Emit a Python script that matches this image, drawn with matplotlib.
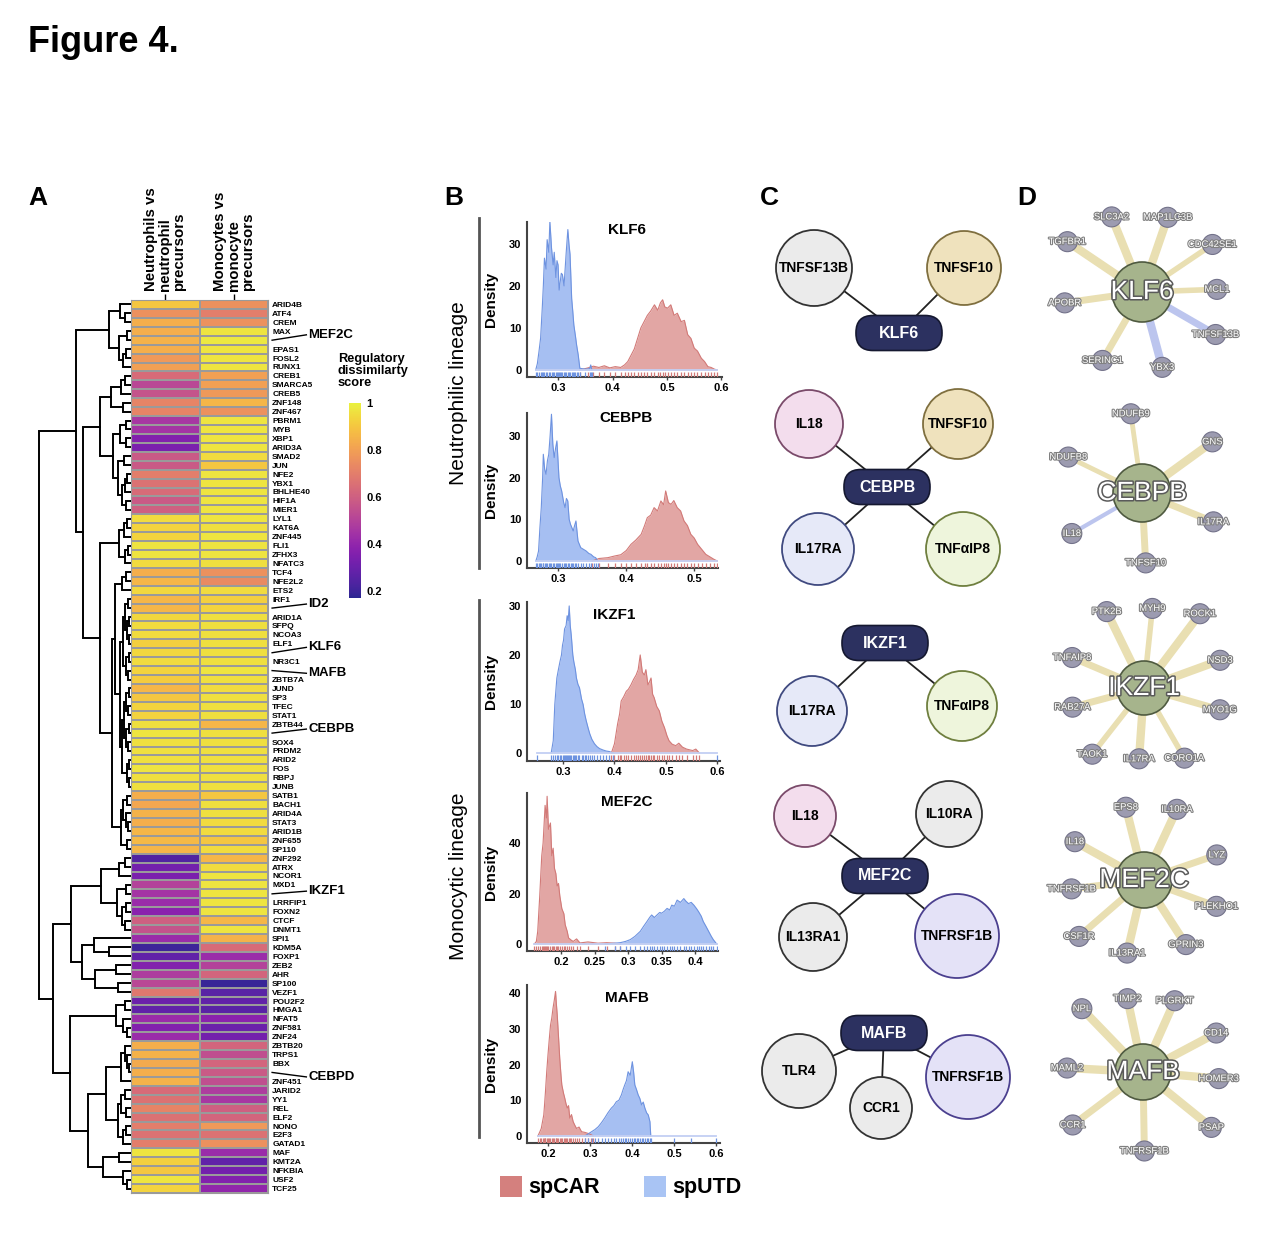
import numpy as np
import matplotlib
matplotlib.use("Agg")
import matplotlib.pyplot as plt
from matplotlib.patches import Circle, FancyBboxPatch, Rectangle
import matplotlib.patheffects as pe
from matplotlib import cm
from matplotlib.colors import Normalize, ListedColormap

plt.rcParams['font.family'] = ['Liberation Sans', 'DejaVu Sans']

# ---------------- DATA ----------------
GENES = ["ARID4B", "ATF4", "CREM", "MAX", "MEF2C", "EPAS1", "FOSL2", "RUNX1", "CREB1", "SMARCA5",
         "CREB5", "ZNF148", "ZNF467", "PBRM1", "MYB", "XBP1", "ARID3A", "SMAD2", "JUN", "NFE2",
         "YBX1", "BHLHE40", "HIF1A", "MIER1", "LYL1", "KAT6A", "ZNF445", "FLI1", "ZFHX3", "NFATC3",
         "TCF4", "NFE2L2", "ETS2", "IRF1", "ID2", "ARID1A", "SFPQ", "NCOA3", "ELF1", "KLF6",
         "NR3C1", "MAFB", "ZBTB7A", "JUND", "SP3", "TFEC", "STAT1", "ZBTB44", "CEBPB", "SOX4",
         "PRDM2", "ARID2", "FOS", "RBPJ", "JUNB", "SATB1", "BACH1", "ARID4A", "STAT3", "ARID1B",
         "ZNF655", "SP110", "ZNF292", "ATRX", "NCOR1", "MXD1", "IKZF1", "LRRFIP1", "FOXN2", "CTCF",
         "DNMT1", "SPI1", "KDM5A", "FOXP1", "ZEB2", "AHR", "SP100", "VEZF1", "POU2F2", "HMGA1",
         "NFAT5", "ZNF581", "ZNF24", "ZBTB20", "TRPS1", "BBX", "CEBPD", "ZNF451", "JARID2", "YY1",
         "REL", "ELF2", "NONO", "E2F3", "GATAD1", "MAF", "KMT2A", "NFKBIA", "USF2", "TCF25"]

NEUT = [0.90, 0.76, 0.84, 0.84, 0.85, 0.84, 0.78, 0.80, 0.64, 0.52,
        0.56, 0.72, 0.72, 0.46, 0.45, 0.36, 0.34, 0.58, 0.58, 0.70,
        0.66, 0.64, 0.58, 0.60, 0.95, 0.93, 0.93, 0.97, 0.97, 0.95,
        0.84, 0.86, 0.94, 0.86, 0.86, 0.94, 0.95, 0.95, 0.92, 0.94,
        0.95, 0.93, 0.91, 0.86, 0.90, 0.93, 0.93, 0.96, 0.97, 0.96,
        0.96, 0.96, 0.97, 0.96, 0.96, 0.84, 0.82, 0.85, 0.84, 0.86,
        0.87, 0.86, 0.24, 0.32, 0.34, 0.50, 0.45, 0.42, 0.38, 0.60,
        0.56, 0.42, 0.20, 0.28, 0.36, 0.48, 0.52, 0.68, 0.30, 0.28,
        0.42, 0.36, 0.42, 0.84, 0.85, 0.83, 0.84, 0.85, 0.64, 0.66,
        0.72, 0.66, 0.70, 0.66, 0.70, 0.97, 0.92, 0.90, 0.97, 0.93]

MONO = [0.76, 0.70, 0.76, 0.97, 0.98, 0.97, 0.97, 0.97, 0.80, 0.80,
        0.78, 0.86, 0.76, 0.97, 0.97, 0.97, 0.97, 0.95, 0.90, 0.97,
        0.97, 0.97, 0.97, 0.97, 0.97, 0.96, 0.97, 0.97, 0.97, 0.96,
        0.76, 0.74, 0.95, 0.92, 0.93, 0.96, 0.96, 0.96, 0.96, 0.96,
        0.96, 0.97, 0.96, 0.95, 0.96, 0.96, 0.96, 0.86, 0.96, 0.96,
        0.96, 0.96, 0.96, 0.96, 0.96, 0.90, 0.96, 0.96, 0.95, 0.95,
        0.90, 0.95, 0.86, 0.95, 0.97, 0.97, 0.97, 0.97, 0.97, 0.86,
        0.97, 0.85, 0.64, 0.42, 0.50, 0.62, 0.19, 0.26, 0.28, 0.26,
        0.38, 0.30, 0.32, 0.62, 0.54, 0.62, 0.58, 0.54, 0.48, 0.46,
        0.60, 0.62, 0.78, 0.66, 0.76, 0.42, 0.28, 0.32, 0.36, 0.40]

COL_LABELS = ["Neutrophils vs\nneutrophil\nprecursors", "Monocytes vs\nmonocyte\nprecursors"]
CALLOUTS = {"MEF2C": -0.6, "ID2": -0.45, "KLF6": -0.6, "MAFB": 0.3,
            "CEBPB": -0.45, "IKZF1": -0.3, "CEBPD": 0.5}
CB_TICKS = [0.2, 0.4, 0.6, 0.8, 1.0]
CB_LABELS = ["0.2", "0.4", "0.6", "0.8", "1"]

# dendrogram: [height, left, right]; leaves are row indices
A1 = [11, 0, [6, 1, 2]]
A2 = [12, [4, 3, 4], [8, [5, 5, 6], 7]]
A_ = [22, A1, A2]
C1 = [20, [10, [6, 8, 9], 10], [8, 11, 12]]
C2 = [18, [11, [5, 13, 14], [5, 15, 16]], [13, [7, 17, 18], [9, [6, [4, 19, 20], 21], [5, 22, 23]]]]
C_ = [31, C1, C2]
D1 = [12, [7, [4, 24, 25], 26], [6, [3, 27, 28], 29]]
D2a = [9, [5, 30, 31], 32]
D2b = [11, [8, [6, [3, 33, 34], [4, [2, 35, 36], [2, 37, 38]]], [5, [2, 39, 40], [3, 41, 42]]],
       [9, [7, [5, [2, 43, 44], [3, 45, 46]], [5, [2, 47, 48], [3, 49, 50]]], [4, [2, 51, 52], [2, 53, 54]]]]
D2c = [10, [8, [4, 55, 56], [5, 57, [3, 58, 59]]], [4, 60, 61]]
D2 = [19, [16, D2a, D2b], D2c]
D_ = [31, D1, D2]
TOP = [54, A_, [47, C_, D_]]
E1 = [30, [12, [6, 62, 63], 64], [14, [5, 65, 66], [9, [5, 67, 68], [6, 69, 70]]]]
E2 = [48, [37, 71, [22, 72, 73]], [36, [15, 74, 75], [13, 76, 77]]]
G1 = [15, [6, 78, 79], [8, 80, [4, 81, 82]]]
G2a = [25, [10, [6, 83, [4, 84, [2, 85, 86]]], 87], [13, [10, [6, 88, 89], [5, 90, 91]], [8, [5, 92, 93], 94]]]
G2b = [28, [12, 95, 96], [8, 97, [4, 98, 99]]]
BOT = [77, [59, E1, E2], [60, G1, [43, G2a, G2b]]]
DENDRO = [91, TOP, BOT]

# density panels (value, density)
KLF6_UTD_X = [0.259, 0.262, 0.265, 0.268, 0.271, 0.273, 0.275, 0.278, 0.280, 0.283, 0.285, 0.288, 0.291, 0.293,
              0.296, 0.298, 0.300, 0.302, 0.304, 0.306, 0.308, 0.311, 0.313, 0.315, 0.318, 0.320, 0.322, 0.325,
              0.327, 0.329, 0.332, 0.334, 0.337, 0.340, 0.350, 0.358, 0.360, 0.362]
KLF6_UTD_Y = [0, 1.5, 4.4, 7.6, 14.7, 20, 26.6, 24, 31, 28, 35.4, 29, 25, 28,
              22, 26, 25, 19, 21, 23, 22.7, 20, 24, 28, 33.4, 30, 27.5, 17,
              14, 10.7, 8, 6, 3.6, 0.4, 0.2, 0.3, 1.2, 0]
KLF6_CAR_X = [0.340, 0.355, 0.365, 0.375, 0.385, 0.395, 0.405, 0.415, 0.422, 0.428, 0.434, 0.440, 0.446,
              0.452, 0.458, 0.464, 0.470, 0.477, 0.483, 0.488, 0.492, 0.496, 0.501, 0.507, 0.513, 0.519,
              0.526, 0.532, 0.538, 0.544, 0.550, 0.556, 0.563, 0.569, 0.575, 0.581, 0.587, 0.592]
KLF6_CAR_Y = [0, 0.5, 0.9, 0.6, 1.0, 0.5, 0.8, 0.6, 1.2, 2.0, 3.5, 5.0, 7.5,
              10.0, 11.5, 13.0, 14.0, 15.5, 14.2, 16.0, 16.7, 15.0, 14.7, 15.5, 13.0, 13.5,
              11.5, 11.8, 8.4, 7.5, 5.2, 4.5, 2.8, 2.0, 0.8, 0.6, 0.2, 0]

CEBPB_UTD_X = [0.267, 0.269, 0.271, 0.273, 0.275, 0.277, 0.278, 0.280, 0.282, 0.284, 0.286, 0.288, 0.290, 0.292,
               0.294, 0.296, 0.298, 0.300, 0.301, 0.303, 0.305, 0.308, 0.310, 0.312, 0.314, 0.316, 0.318, 0.320,
               0.322, 0.324, 0.326, 0.329, 0.333, 0.337, 0.341, 0.345, 0.348, 0.352, 0.355, 0.358]
CEBPB_UTD_Y = [0, 1.0, 2.4, 8, 12.8, 20, 25.6, 22, 20.8, 24, 25.6, 30, 35.2, 28,
               24.8, 27, 28.8, 23, 20, 18, 16.8, 14, 12.8, 15, 14.4, 10, 8.8, 8,
               7.2, 8.5, 9.6, 4.8, 3.2, 2.8, 2.4, 1.8, 1.6, 1.0, 0.8, 0]
CEBPB_CAR_X = [0.350, 0.360, 0.373, 0.383, 0.392, 0.400, 0.407, 0.414, 0.422, 0.427, 0.431, 0.436, 0.441,
               0.446, 0.451, 0.455, 0.458, 0.462, 0.466, 0.470, 0.475, 0.480, 0.485, 0.490, 0.495, 0.500,
               0.505, 0.511, 0.517, 0.523, 0.529, 0.534]
CEBPB_CAR_Y = [0, 0.6, 0.8, 1.2, 1.5, 2.5, 4.0, 5.0, 6.4, 8.5, 10.4, 11.0, 12.8,
               12.0, 14.4, 13.5, 16.8, 14.0, 13.6, 14.5, 12.8, 12.0, 9.6, 8.5, 6.4, 5.5,
               4.0, 2.8, 1.6, 1.0, 0.4, 0]

IKZF1_UTD_X = [0.277, 0.281, 0.284, 0.288, 0.291, 0.294, 0.297, 0.299, 0.301, 0.303, 0.306, 0.308, 0.310,
               0.312, 0.314, 0.316, 0.319, 0.321, 0.324, 0.326, 0.329, 0.332, 0.336, 0.339, 0.342, 0.345,
               0.349, 0.352, 0.356, 0.361, 0.366, 0.371, 0.378, 0.384, 0.390, 0.397]
IKZF1_UTD_Y = [0, 2.5, 9.9, 15.3, 17, 18.6, 20, 22, 23, 25.3, 26, 28, 27,
               30, 26, 24, 20, 18.6, 17, 15.3, 14, 13.3, 11, 9.9, 8, 6.6,
               5, 3.9, 2.8, 1.9, 1.3, 0.9, 0.6, 0.4, 0.3, 0]
IKZF1_UTD_OUT = [0.25, 0.60]
IKZF1_CAR_X = [0.394, 0.400, 0.406, 0.410, 0.413, 0.418, 0.423, 0.427, 0.432, 0.437, 0.442, 0.446, 0.450,
               0.454, 0.458, 0.461, 0.465, 0.468, 0.471, 0.474, 0.477, 0.482, 0.487, 0.492, 0.497, 0.502,
               0.506, 0.512, 0.519, 0.525, 0.532, 0.540, 0.552, 0.558, 0.565]
IKZF1_CAR_Y = [0, 1.9, 5.9, 8, 10.6, 11.5, 12.6, 13, 13.9, 15, 15.9, 17, 20,
               16.5, 15.9, 17, 13.9, 14.5, 15.3, 12, 11.3, 9.5, 8.6, 6.5, 5.2, 3.5,
               2.5, 1.8, 1.5, 2.0, 1.2, 0.8, 0.5, 0.8, 0]

MEF2C_CAR_X = [0.160, 0.163, 0.165, 0.168, 0.171, 0.173, 0.174, 0.176, 0.178, 0.179, 0.181, 0.184, 0.186,
               0.188, 0.190, 0.192, 0.194, 0.196, 0.198, 0.201, 0.204, 0.206, 0.209, 0.211, 0.215, 0.218,
               0.223, 0.228, 0.240, 0.255, 0.268, 0.280, 0.288]
MEF2C_CAR_Y = [0, 1, 5, 19, 35, 40, 45, 55, 50, 58.6, 45.5, 48, 35,
               38, 30, 28, 23, 24, 19, 14, 12, 7.6, 5, 2.4, 1.5, 1.0,
               2.0, 0.4, 0.8, 0.3, 0.5, 0.3, 0]
MEF2C_UTD_X = [0.265, 0.280, 0.288, 0.296, 0.303, 0.310, 0.318, 0.323, 0.328, 0.332, 0.335, 0.339, 0.343,
               0.347, 0.350, 0.354, 0.358, 0.362, 0.365, 0.369, 0.373, 0.378, 0.383, 0.386, 0.390, 0.394,
               0.398, 0.402, 0.405, 0.409, 0.412, 0.416, 0.420, 0.424, 0.427, 0.432]
MEF2C_UTD_Y = [0, 0.3, 0.5, 1.0, 1.7, 3.0, 5.0, 7.0, 8.9, 10.5, 11.5, 10.5, 11.5,
               12.5, 12.2, 13.0, 14.1, 13.5, 15.4, 15.0, 17.4, 16.5, 18.0, 17.0, 16.0, 16.5,
               15.4, 14.0, 12.8, 11.0, 8.9, 7.0, 5.0, 3.0, 1.7, 0]

MAFB_CAR_X = [0.176, 0.180, 0.184, 0.187, 0.190, 0.192, 0.194, 0.197, 0.200, 0.203, 0.206, 0.209, 0.212,
              0.215, 0.218, 0.220, 0.222, 0.225, 0.228, 0.231, 0.233, 0.237, 0.240, 0.243, 0.246, 0.249,
              0.252, 0.256, 0.260, 0.264, 0.268, 0.274, 0.280, 0.288, 0.296, 0.302, 0.308]
MAFB_CAR_Y = [0, 1.0, 2.1, 4, 5.9, 9, 12.4, 18, 22.7, 27, 31, 33, 35.8,
              38, 40.5, 37, 34, 28, 21.8, 17, 14.3, 12, 10.6, 9, 7.8, 8.5,
              5, 6, 4, 3, 2.1, 2.5, 1.2, 1.0, 0.7, 0.4, 0]
MAFB_UTD_X = [0.288, 0.296, 0.304, 0.312, 0.320, 0.328, 0.335, 0.343, 0.351, 0.357, 0.363, 0.369, 0.375,
              0.379, 0.383, 0.387, 0.391, 0.396, 0.401, 0.404, 0.407, 0.411, 0.415, 0.419, 0.423, 0.427,
              0.431, 0.435, 0.439, 0.443, 0.445]
MAFB_UTD_Y = [0, 0.6, 1.2, 1.8, 2.6, 3.8, 5.0, 6.5, 7.8, 8.5, 9.6, 10.0, 11.5,
              13.0, 14.3, 15.5, 18.0, 17.0, 20.8, 18.0, 14.3, 13.0, 11.5, 10.5, 8.7, 9.5,
              7.8, 6.5, 5.9, 4.0, 0]
MAFB_UTD_OUT = [0.50, 0.54, 0.60]

DENS_TITLES = ["KLF6", "CEBPB", "IKZF1", "MEF2C", "MAFB"]
DENS_XTICKS = [[0.3, 0.4, 0.5, 0.6], [0.3, 0.4, 0.5], [0.3, 0.4, 0.5, 0.6],
               [0.2, 0.25, 0.3, 0.35, 0.4], [0.2, 0.3, 0.4, 0.5, 0.6]]
DENS_YTICKS = [[0, 10, 20, 30], [0, 10, 20, 30], [0, 10, 20, 30], [0, 20, 40], [0, 10, 20, 30, 40]]
LEGEND = ["spCAR", "spUTD"]

# panel C: hub -> partners
C_HUBS = ["KLF6", "CEBPB", "IKZF1", "MEF2C", "MAFB"]
C_PARTNERS = [["TNFSF13B", "TNFSF10"],
              ["IL18", "TNFSF10", "IL17RA", "TNFαIP8"],
              ["IL17RA", "TNFαIP8"],
              ["IL18", "IL10RA", "IL13RA1", "TNFRSF1B"],
              ["TLR4", "CCR1", "TNFRSF1B"]]

# panel D: hub -> neighbours, edge type (y = beige, b = blue), edge weight
D_SATS = [["TGFBR1", "SLC3A2", "MAP1LC3B", "CDC42SE1", "MCL1", "TNFSF13B", "YBX3", "SERINC1", "APOBR"],
          ["NDUFB9", "GNS", "IL17RA", "TNFSF10", "IL18", "NDUFB8"],
          ["PTK2B", "MYH9", "ROCK1", "NSD3", "MYO1G", "CORO1A", "IL17RA", "TAOK1", "RAB27A", "TNFAIP8"],
          ["EPS8", "IL10RA", "LYZ", "PLEKHO1", "GPRIN3", "IL13RA1", "CSF1R", "TNFRSF1B", "IL18"],
          ["NPL", "TIMP2", "PLGRKT", "CD14", "HOMER3", "PSAP", "TNFRSF1B", "CCR1", "MAML2"]]
D_TYPES = [["y", "y", "y", "y", "y", "b", "b", "y", "y"],
           ["y", "y", "y", "y", "b", "y"],
           ["y"] * 10,
           ["y"] * 9,
           ["y"] * 9]
D_WEIGHTS = [[6, 6, 6, 4, 4, 5, 6, 5, 5],
             [3.5, 6, 5, 5, 3, 3.5],
             [6, 4, 6, 6, 5, 4, 6, 4, 5, 5],
             [6, 6, 5, 5, 6, 6, 5, 5, 6],
             [6, 6, 6, 6, 6, 6, 5, 5, 6]]

# ---------------- LAYOUT / STYLE ----------------
W, H = 1268, 1256
fig = plt.figure(figsize=(W / 100, H / 100), dpi=100)


def ax_px(x0, y0, x1, y1, **kw):
    return fig.add_axes([x0 / W, 1 - y1 / H, (x1 - x0) / W, (y1 - y0) / H], **kw)


ov = ax_px(0, 0, W, H)
ov.set_xlim(0, W)
ov.set_ylim(H, 0)
ov.axis('off')

ov.text(28, 42, "Figure 4.", fontsize=26, fontweight='bold', va='center', ha='left')
for lab, x in zip("ABCD", [28, 444, 760, 1017]):
    ov.text(x, 198, lab, fontsize=19, fontweight='bold', va='center', ha='left')

# slightly muted plasma, as in the printed figure
_base = plt.get_cmap('plasma')(np.linspace(0, 1, 256))
_base[:, :3] = _base[:, :3] * 0.84 + 0.16 * 0.78
CMAP = ListedColormap(_base)

# ----- Panel A: heatmap -----
hm = ax_px(131, 300, 268, 1193)
vals = np.column_stack([NEUT, MONO])
norm = Normalize(0.17, 1.0)
hm.pcolormesh(vals, cmap=CMAP, norm=norm, edgecolors='#9a9a9a', linewidth=1.3)
hm.set_xlim(0, 2)
hm.set_ylim(len(GENES), 0)
hm.yaxis.tick_right()
hm.set_yticks(np.arange(len(GENES)) + 0.5)
hm.set_yticklabels(['' if g in CALLOUTS else g for g in GENES], fontsize=6, fontweight='bold')
hm.tick_params(axis='y', length=0, pad=3)
hm.xaxis.tick_top()
hm.set_xticks([0.5, 1.5])
hm.set_xticklabels([])
hm.tick_params(axis='x', length=4, width=1)
for s in hm.spines.values():
    s.set_color('#9a9a9a')

for g, dy in CALLOUTS.items():
    i = GENES.index(g)
    hm.plot([2.06, 2.56], [i + 0.5, i + 0.5 + dy], color='k', lw=1, clip_on=False)
    hm.text(2.59, i + 0.5 + dy, g, fontsize=9.5, fontweight='bold', va='center', ha='left', clip_on=False)

for j, lab in enumerate(COL_LABELS):
    xc = 131 + (j + 0.5) * 68.5
    ov.text(xc, 291, lab, rotation=90, ha='center', va='bottom', fontsize=10.8,
            fontweight='bold', multialignment='left', linespacing=1.02)

# dendrogram
dg = ax_px(38, 300, 131, 1193)
dg.set_xlim(92, 0)
dg.set_ylim(len(GENES), 0)
dg.axis('off')


def draw_tree(node):
    if isinstance(node, int):
        return node + 0.5, 0.0
    h, l, r = node
    pl, hl = draw_tree(l)
    pr, hr = draw_tree(r)
    dg.plot([hl, h, h, hr], [pl, pl, pr, pr], color='k', lw=1.4, solid_joinstyle='miter')
    return (pl + pr) / 2, h


draw_tree(DENDRO)

# colorbar
cbax = ax_px(349, 403, 361, 598)
cb = fig.colorbar(cm.ScalarMappable(norm=norm, cmap=CMAP), cax=cbax, ticks=CB_TICKS)
cb.outline.set_visible(False)
cb.set_ticklabels(CB_LABELS)
cbax.tick_params(length=0, pad=4, labelsize=8)
for t in cbax.get_yticklabels():
    t.set_fontweight('bold')
ov.text(338, 371, "Regulatory\ndissimilarty\nscore", fontsize=9.2, fontweight='bold',
        va='center', ha='left', linespacing=1.0)

# ----- Panel B: densities -----
RED_FILL, RED_EDGE = '#e2a6a4', '#d27a78'
BLUE_FILL, BLUE_EDGE = '#a6bff2', '#6e93e0'

ov.plot([479, 479], [218, 568], color='#555555', lw=2)
ov.plot([479, 479], [600, 1137], color='#555555', lw=2)
ov.text(459, 393, "Neutrophilic lineage", rotation=90, ha='center', va='center', fontsize=15)
ov.text(459, 876, "Monocytic lineage", rotation=90, ha='center', va='center', fontsize=15)

dens_layout = [
    dict(box=(527, 222, 722, 377), xlim=(0.243, 0.601), ylim=(-1.67, 35.2), tpos=(0.51, 0.95)),
    dict(box=(527, 413, 718, 568), xlim=(0.254, 0.535), ylim=(-1.68, 35.5), tpos=(0.52, 0.97)),
    dict(box=(527, 602, 720, 761), xlim=(0.230, 0.605), ylim=(-1.63, 30.8), tpos=(0.45, 0.92)),
    dict(box=(527, 793, 718, 951), xlim=(0.149, 0.434), ylim=(-2.8, 59.9), tpos=(0.52, 0.94)),
    dict(box=(527, 985, 720, 1143), xlim=(0.150, 0.610), ylim=(-1.97, 42.3), tpos=(0.52, 0.92)),
]
dens_data = [
    (KLF6_CAR_X, KLF6_CAR_Y, [], KLF6_UTD_X, KLF6_UTD_Y, []),
    (CEBPB_CAR_X, CEBPB_CAR_Y, [], CEBPB_UTD_X, CEBPB_UTD_Y, []),
    (IKZF1_CAR_X, IKZF1_CAR_Y, [], IKZF1_UTD_X, IKZF1_UTD_Y, IKZF1_UTD_OUT),
    (MEF2C_CAR_X, MEF2C_CAR_Y, [], MEF2C_UTD_X, MEF2C_UTD_Y, []),
    (MAFB_CAR_X, MAFB_CAR_Y, [], MAFB_UTD_X, MAFB_UTD_Y, MAFB_UTD_OUT),
]

for k, (lay, dat) in enumerate(zip(dens_layout, dens_data)):
    x0, y0, x1, y1 = lay['box']
    ax = ax_px(x0, y0, x1, y1)
    cx, cy, cout, ux, uy, uout = dat
    ax.fill_between(cx, cy, 0, color=RED_FILL, lw=0, zorder=2)
    ax.plot(cx, cy, color=RED_EDGE, lw=0.8, zorder=3)
    ax.fill_between(ux, uy, 0, color=BLUE_FILL, lw=0, zorder=2)
    ax.plot(ux, uy, color=BLUE_EDGE, lw=0.8, zorder=3)
    allx = list(cx) + list(ux) + list(cout) + list(uout)
    ax.plot([min(allx), max(allx)], [0, 0], color='#c3cff3', lw=1.3, zorder=4)
    ylo = lay['ylim'][0]
    ax.vlines(list(cx) + list(cout), ylo, ylo * 0.3, color=RED_EDGE, lw=0.9, zorder=3)
    ax.vlines(list(ux) + list(uout), ylo, ylo * 0.3, color=BLUE_EDGE, lw=0.9, zorder=3)
    ax.set_xlim(*lay['xlim'])
    ax.set_ylim(*lay['ylim'])
    ax.set_xticks(DENS_XTICKS[k])
    ax.set_xticklabels([('%g' % v) for v in DENS_XTICKS[k]])
    ax.set_yticks(DENS_YTICKS[k])
    ax.tick_params(axis='x', length=2, width=1, labelsize=8, pad=2, color='#444444')
    ax.tick_params(axis='y', length=0, labelsize=8, pad=4)
    for t in ax.get_xticklabels() + ax.get_yticklabels():
        t.set_fontweight('bold')
    for s in ['top', 'right']:
        ax.spines[s].set_visible(False)
    for s in ['left', 'bottom']:
        ax.spines[s].set_color('#444444')
        ax.spines[s].set_linewidth(1.5)
    ax.patch.set_alpha(0)
    ax.set_ylabel("Density", fontsize=11, fontweight='bold')
    ax.yaxis.set_label_coords((498 - x0) / (x1 - x0), 0.5)
    ax.text(lay['tpos'][0], lay['tpos'][1], DENS_TITLES[k], transform=ax.transAxes,
            ha='center', va='center', fontsize=11, fontweight='bold')

# legend
for (lab, col, x) in zip(LEGEND, ['#d4807e', '#a9c4f4'], [500, 644]):
    ov.add_patch(Rectangle((x, 1176), 22, 21, facecolor=col, edgecolor='none'))
    ov.text(x + 28, 1187, lab, fontsize=15.5, fontweight='bold', va='center', ha='left')

# ----- Panel C: networks -----
NODE_STYLE = {
    "TNFSF13B": ('#ebebeb', '#333333'), "TNFSF10": ('#efe2bd', '#7f6f3f'),
    "IL18": ('#f3dded', '#7a4a6a'), "IL17RA": ('#e6e9f8', '#404a80'),
    "TNFαIP8": ('#eef5dc', '#6f7f3f'), "IL10RA": ('#ebebeb', '#333333'),
    "IL13RA1": ('#ebebeb', '#333333'), "TLR4": ('#ebebeb', '#333333'),
    "CCR1": ('#ebebeb', '#333333'), "TNFRSF1B": ('#e4e2f7', '#4b408f'),
}
C_HUB_XY = [(899, 333), (887, 487), (885, 643), (885, 876), (884, 1033)]
C_NODE_XY = [[(814, 268, 38), (964, 268, 37)],
             [(809, 424, 34), (958, 424, 35), (818, 549, 36), (963, 549, 37)],
             [(812, 711, 35), (962, 706, 35)],
             [(805, 816, 31), (949, 814, 33), (813, 937, 34), (957, 936, 42)],
             [(799, 1071, 37), (881, 1108, 31), (968, 1077, 42)]]

for hub, (hx, hy), partners, nodes in zip(C_HUBS, C_HUB_XY, C_PARTNERS, C_NODE_XY):
    for name, (nx, ny, r) in zip(partners, nodes):
        ov.plot([hx, nx], [hy, ny], color='#222222', lw=1.3, zorder=1)
        fc, ec = NODE_STYLE[name]
        ov.add_patch(Circle((nx, ny), r, facecolor=fc, edgecolor=ec, lw=1.3, zorder=2))
        ov.text(nx, ny, name, fontsize=10, fontweight='bold', ha='center', va='center', zorder=3)
    ov.add_patch(FancyBboxPatch((hx - 43, hy - 17.5), 86, 35,
                                boxstyle="round,pad=0,rounding_size=17",
                                facecolor='#2c3160', edgecolor='#151830', lw=1.2, zorder=2))
    ov.text(hx, hy, hub, fontsize=11.5, fontweight='bold', color='white', ha='center', va='center', zorder=3)

# ----- Panel D: star networks -----
D_CENTER = [(1142, 292, 30), (1142, 493, 29), (1144, 688, 27), (1144, 880, 28), (1143, 1072, 28)]
D_ANG = [[146, 112, 71, 34, 2, -30, -75, -120, 188],
         [98, 36, -22, -87, -150, 154],
         [116, 84, 53, 20, -16, -60, -94, -128, -165, 157],
         [104, 65, 19, -20, -57, -103, -139, -173, 151],
         [134, 102, 66, 28, -5, -39, -89, -143, 177]]
D_DIST = [[90, 81, 79, 85, 75, 85, 78, 79, 78],
          [80, 87, 77, 70, 81, 82],
          [85, 80, 93, 81, 79, 81, 71, 84, 74, 78],
          [75, 78, 77, 77, 77, 75, 86, 73, 79],
          [88, 75, 78, 83, 76, 88, 79, 88, 76]]
EDGE_COL = {'y': '#e9dfb2', 'b': '#bcc5ee'}
sat_fx = [pe.withStroke(linewidth=1.6, foreground='#808080')]
hub_fx = [pe.withStroke(linewidth=2.2, foreground='#5a5a5a')]

for hub, (cx, cy, cr), sats, types, wts, angs, dists in zip(C_HUBS, D_CENTER, D_SATS, D_TYPES,
                                                             D_WEIGHTS, D_ANG, D_DIST):
    for name, t, w, a, d in zip(sats, types, wts, angs, dists):
        sx = cx + d * np.cos(np.radians(a))
        sy = cy - d * np.sin(np.radians(a))
        ov.plot([cx, sx], [cy, sy], color=EDGE_COL[t], lw=w, solid_capstyle='butt', zorder=1)
        ov.add_patch(Circle((sx, sy), 10, facecolor='#9c9bb0', edgecolor='#73728a', lw=0.8, zorder=2))
        ov.text(sx, sy, name, fontsize=6.8, color='white', ha='center', va='center',
                path_effects=sat_fx, zorder=3)
    ov.add_patch(Circle((cx, cy), cr, facecolor='#a6b48c', edgecolor='#4f5a40', lw=1.2, zorder=4))
    ov.text(cx, cy, hub, fontsize=19, color='white', ha='center', va='center',
            path_effects=hub_fx, zorder=5)

fig.savefig("out.png", dpi=100)
